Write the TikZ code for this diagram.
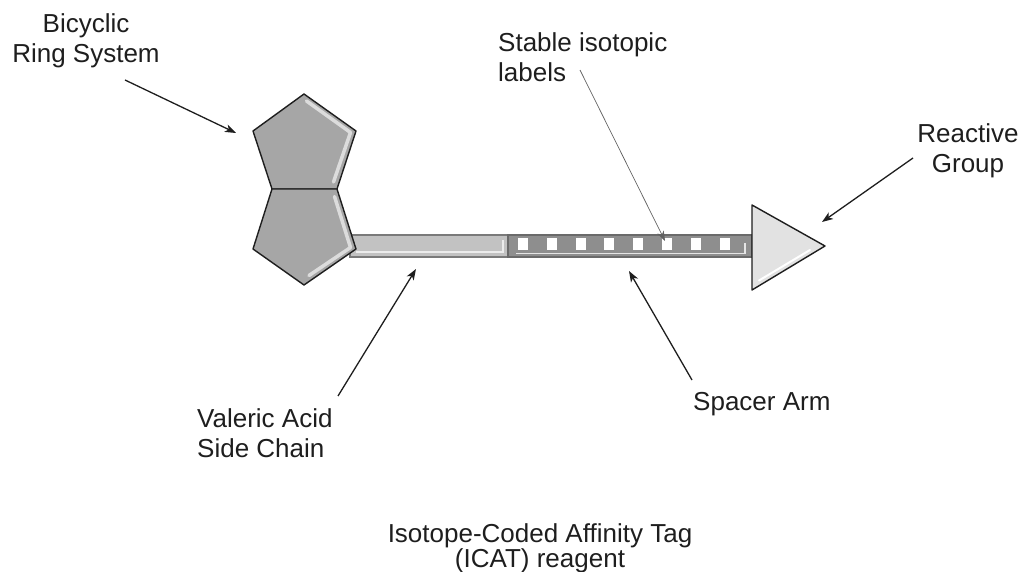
\documentclass[tikz,border=0pt]{standalone}
\usepackage{fontspec}
\setmainfont{Liberation Sans}
\usetikzlibrary{arrows.meta}
\definecolor{ink}{HTML}{1E1E1E}
\definecolor{ringfill}{HTML}{A6A6A6}
\definecolor{ringshine}{HTML}{DCDCDC}
\definecolor{chainfill}{HTML}{C2C2C2}
\definecolor{chainedge}{HTML}{7A7A7A}
\definecolor{armfill}{HTML}{8E8E8E}
\definecolor{armedge}{HTML}{6A6A6A}
\definecolor{tipfill}{HTML}{E2E2E2}
\begin{document}
\begin{tikzpicture}[x=1pt,y=-1pt,
  lbl/.style={font=\fontsize{26}{30}\selectfont, text=ink, inner sep=0pt, anchor=base},
  pointer/.style={draw=ink, line width=1.3pt, -{Stealth[length=11pt,width=8pt,inset=3pt]}},
  finepointer/.style={draw=ink!70, line width=0.7pt, -{Stealth[length=10pt,width=7pt,inset=3pt]}},
  ring/.style={fill=ringfill, draw=ink, line width=1.4pt, line join=round},
  shine/.style={draw=ringshine, line width=3.5pt, line cap=round, line join=round},
  isotope/.style={fill=white, draw=none}
]
\useasboundingbox (0,0) rectangle (1021,572);

% valeric acid side chain
\draw[fill=chainfill, draw=chainedge, line width=1.2pt] (350,235) rectangle (508,257);
\draw[draw=white!85!gray, line width=2pt] (356,252.5) -- (503,252.5) -- (503,240);

% spacer arm with stable isotopic labels
\draw[fill=armfill, draw=armedge, line width=1.2pt] (508,235) rectangle (752,257);
\foreach \k in {0,...,7} {
  \fill[isotope] ({518+28.8*\k},238) rectangle ({528+28.8*\k},250);
}
\draw[draw=white!80!gray, line width=1.6pt] (516,253.5) -- (745,253.5) -- (745,243);

% bicyclic ring system
\draw[ring] (304,94) -- (356,131) -- (337,189) -- (272,189) -- (253,131) -- cycle;
\draw[ring] (272,189) -- (337,189) -- (356,249) -- (304,285) -- (253,249) -- cycle;
\draw[shine] (306.5,101) -- (350.5,132.5) -- (333.5,182);
\draw[shine] (334.5,196.5) -- (350.5,247.5) -- (309,275.5);

% reactive group
\draw[fill=tipfill, draw=ink, line width=1.4pt, line join=round] (752,205) -- (825,246) -- (752,290) -- cycle;
\draw[draw=white, line width=2pt, line cap=round] (759,280.5) -- (810,250);

% labels (base anchor sits on the last line)
\node[lbl, align=center] (ring) at (86,63) {Bicyclic\\Ring System};
\node[lbl, align=left, anchor=base west] (iso) at (498,82) {Stable isotopic\\labels};
\node[lbl, align=center] (react) at (968,173) {Reactive\\Group};
\node[lbl, align=left, anchor=base west] (val) at (197,457) {Valeric Acid\\Side Chain};
\node[lbl, anchor=base west] (arm) at (693,410) {Spacer Arm};
\node[lbl, align=center, font=\fontsize{26}{25}\selectfont] (cap) at (540,567) {Isotope-Coded Affinity Tag\\(ICAT) reagent};

% pointer ends
\coordinate (ringS) at (125,80);   \coordinate (ringE) at (236,133);
\coordinate (isoS) at (580,70);    \coordinate (isoE) at (665,241);
\coordinate (reactS) at (913,158); \coordinate (reactE) at (822,222);
\coordinate (valS) at (338,396);   \coordinate (valE) at (416,269);
\coordinate (armS) at (692,380);   \coordinate (armE) at (629,271);

\draw[pointer] (ringS) -- (ringE);
\draw[finepointer] (isoS) -- (isoE);
\draw[pointer] (reactS) -- (reactE);
\draw[pointer] (valS) -- (valE);
\draw[pointer] (armS) -- (armE);
\end{tikzpicture}
\end{document}
